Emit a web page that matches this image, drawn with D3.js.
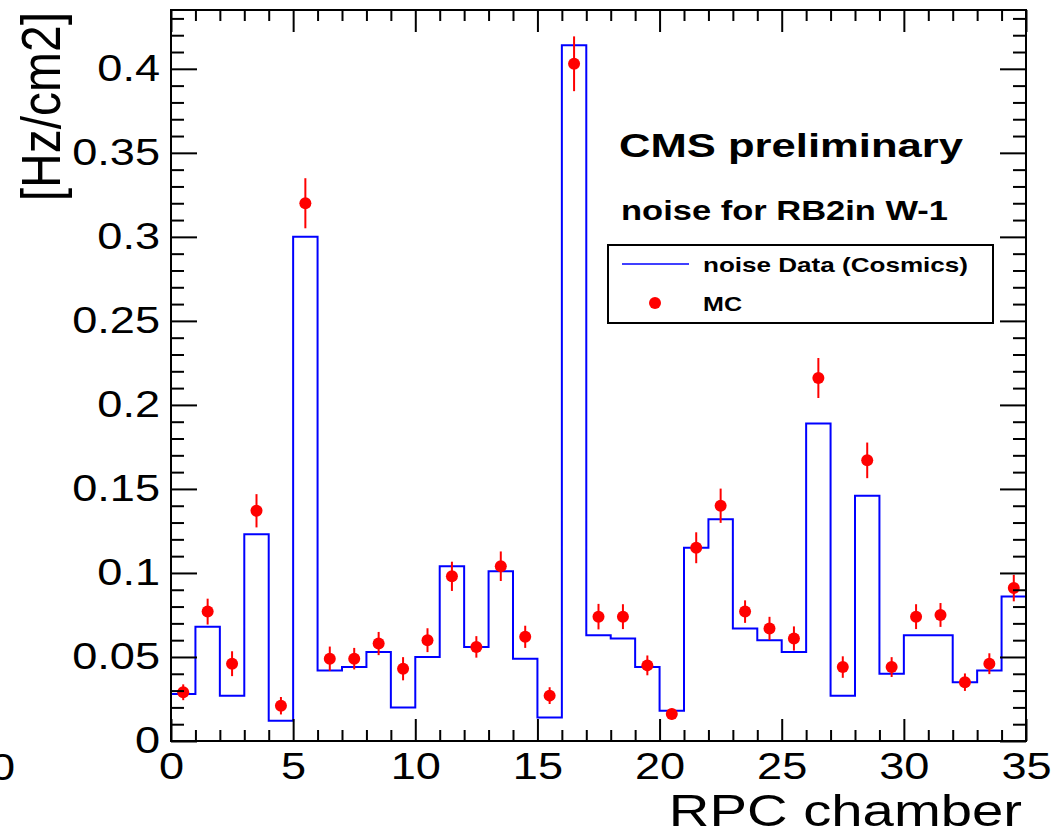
<!DOCTYPE html>
<html>
<head>
<meta charset="utf-8">
<script src="https://cdn.jsdelivr.net/npm/d3@7"></script>
<style>
  html, body { margin: 0; padding: 0; background: #fff; }
  svg { display: block; font-family: "Liberation Sans", Arial, Helvetica, sans-serif; }
</style>
</head>
<body>
<svg id="chart" width="1060" height="840"></svg>
<script>
// ---- data ----
const chambers = d3.range(0, 35);            // bin low edges (bin width 1)
const noiseData = [0.028, 0.068, 0.027, 0.123, 0.012, 0.300, 0.042, 0.044, 0.053, 0.020,
                   0.050, 0.104, 0.056, 0.101, 0.049, 0.014, 0.414, 0.063, 0.061, 0.044,
                   0.018, 0.115, 0.132, 0.067, 0.060, 0.053, 0.189, 0.027, 0.146, 0.040,
                   0.063, 0.063, 0.035, 0.042, 0.086];
const mcValues  = [0.029, 0.077, 0.046, 0.137, 0.021, 0.320, 0.049, 0.049, 0.058, 0.043,
                   0.060, 0.098, 0.056, 0.104, 0.062, 0.027, 0.403, 0.074, 0.074, 0.045,
                   0.016, 0.115, 0.140, 0.077, 0.067, 0.061, 0.216, 0.044, 0.167, 0.044,
                   0.074, 0.075, 0.035, 0.046, 0.091];
const mcErrors  = [0.0047, 0.0077, 0.0074, 0.0099, 0.0052, 0.0149, 0.0072, 0.0064, 0.0069, 0.0069,
                   0.0071, 0.0087, 0.0064, 0.0088, 0.0066, 0.0050, 0.0163, 0.0076, 0.0074, 0.0059,
                   0.0032, 0.0092, 0.0102, 0.0067, 0.0069, 0.0072, 0.0119, 0.0064, 0.0106, 0.0059,
                   0.0074, 0.0071, 0.0052, 0.0062, 0.0079];
const xTickLabels = [0, 5, 10, 15, 20, 25, 30, 35];
const yTickLabels = [0, 0.05, 0.1, 0.15, 0.2, 0.25, 0.3, 0.35, 0.4];
const legendLabels = ["noise Data (Cosmics)", "MC"];
const titleText = "CMS preliminary";
const subtitleText = "noise for RB2in W-1";
const xTitle = "RPC chamber";
const yTitle = "[Hz/cm2]";

// ---- layout ----
const L = 171, R = 1026, T = 10, B = 741;
const svg = d3.select("#chart");
const x = d3.scaleLinear().domain([0, 35]).range([L, R]);
const y = d3.scaleLinear().domain([0, 0.435]).range([B, T]);
const SX = 1.22; // horizontal stretch of text in the reference

const xMinor = d3.range(0, 36).filter(v => v % 5 !== 0);
const yMinor = d3.range(1, 44).map(v => v / 100).filter(v => Math.round(v * 100) % 5 !== 0);
const fmtY = d => d === 0 ? "0" : String(+d.toFixed(2));

function styleAxis(g, labels) {
  g.select(".domain").remove();
  g.selectAll(".tick line").attr("stroke", "#000").attr("stroke-width", 2);
  if (labels) {
    g.selectAll(".tick text").attr("fill", "#000").attr("font-size", 37)
      .attr("transform", `scale(${SX},1)`);
  } else {
    g.selectAll(".tick text").remove();
  }
}

// histogram (step line)
const stepPts = chambers.map((c, i) => [c, noiseData[i]]).concat([[35, noiseData[noiseData.length - 1]]]);
svg.append("path")
  .attr("d", d3.line().x(d => x(d[0])).y(d => y(d[1])).curve(d3.curveStepAfter)(stepPts))
  .attr("fill", "none").attr("stroke", "#0000ff").attr("stroke-width", 2);

// MC error bars and markers
const mc = svg.append("g");
mc.selectAll("line.err").data(chambers).join("line").attr("class", "err")
  .attr("x1", d => x(d + 0.5)).attr("x2", d => x(d + 0.5))
  .attr("y1", (d, i) => y(mcValues[i] - mcErrors[i])).attr("y2", (d, i) => y(mcValues[i] + mcErrors[i]))
  .attr("stroke", "#ff0000").attr("stroke-width", 2);
mc.selectAll("circle").data(chambers).join("circle")
  .attr("cx", d => x(d + 0.5)).attr("cy", (d, i) => y(mcValues[i])).attr("r", 6)
  .attr("fill", "#ff0000");

// axes: bottom / top / left / right, major + minor
svg.append("g").attr("transform", `translate(0,${B})`)
  .call(d3.axisBottom(x).tickValues(xTickLabels).tickSizeInner(-22).tickSizeOuter(0).tickPadding(12).tickFormat(d3.format("d")))
  .call(g => styleAxis(g, true));
svg.append("g").attr("transform", `translate(0,${B})`)
  .call(d3.axisBottom(x).tickValues(xMinor).tickSizeInner(-11).tickSizeOuter(0))
  .call(g => styleAxis(g, false));
svg.append("g").attr("transform", `translate(0,${T})`)
  .call(d3.axisTop(x).tickValues(xTickLabels).tickSizeInner(-22).tickSizeOuter(0))
  .call(g => styleAxis(g, false));
svg.append("g").attr("transform", `translate(0,${T})`)
  .call(d3.axisTop(x).tickValues(xMinor).tickSizeInner(-11).tickSizeOuter(0))
  .call(g => styleAxis(g, false));
svg.append("g").attr("transform", `translate(${L},0)`)
  .call(d3.axisLeft(y).tickValues(yTickLabels).tickSizeInner(-26).tickSizeOuter(0).tickPadding(9).tickFormat(fmtY))
  .call(g => styleAxis(g, true));
svg.append("g").attr("transform", `translate(${L},0)`)
  .call(d3.axisLeft(y).tickValues(yMinor).tickSizeInner(-13).tickSizeOuter(0))
  .call(g => styleAxis(g, false));
svg.append("g").attr("transform", `translate(${R},0)`)
  .call(d3.axisRight(y).tickValues(yTickLabels).tickSizeInner(-26).tickSizeOuter(0))
  .call(g => styleAxis(g, false));
svg.append("g").attr("transform", `translate(${R},0)`)
  .call(d3.axisRight(y).tickValues(yMinor).tickSizeInner(-13).tickSizeOuter(0))
  .call(g => styleAxis(g, false));

// frame
svg.append("rect").attr("x", L).attr("y", T).attr("width", R - L).attr("height", B - T)
  .attr("fill", "none").attr("stroke", "#000").attr("stroke-width", 2);

// stray clipped "0" at the far left
svg.append("text").attr("transform", `translate(15,780) scale(${SX},1)`)
  .attr("text-anchor", "end").attr("font-size", 37).text("0");

// axis titles
svg.append("text").attr("transform", `translate(1022,826) scale(1.25,1)`)
  .attr("text-anchor", "end").attr("font-size", 45).text(xTitle);
svg.append("text").attr("transform", `translate(60,12) scale(1.15,1) rotate(-90)`)
  .attr("text-anchor", "end").attr("font-size", 48).text(yTitle);

// titles
svg.append("text").attr("x", 619).attr("y", 157).attr("font-size", 34).attr("font-weight", "bold")
  .attr("textLength", 344).attr("lengthAdjust", "spacingAndGlyphs").text(titleText);
svg.append("text").attr("x", 621).attr("y", 220).attr("font-size", 28).attr("font-weight", "bold")
  .attr("textLength", 327).attr("lengthAdjust", "spacingAndGlyphs").text(subtitleText);

// legend
const lg = svg.append("g");
lg.append("rect").attr("x", 608).attr("y", 245).attr("width", 385).attr("height", 78)
  .attr("fill", "#fff").attr("stroke", "#000").attr("stroke-width", 2);
lg.append("line").attr("x1", 622).attr("x2", 689).attr("y1", 264).attr("y2", 264)
  .attr("stroke", "#0000ff").attr("stroke-width", 1.5);
lg.append("circle").attr("cx", 655).attr("cy", 303).attr("r", 6).attr("fill", "#ff0000");
lg.append("text").attr("x", 703).attr("y", 271.5).attr("font-size", 21).attr("font-weight", "bold")
  .attr("textLength", 265).attr("lengthAdjust", "spacingAndGlyphs").text(legendLabels[0]);
lg.append("text").attr("x", 703).attr("y", 310.5).attr("font-size", 21).attr("font-weight", "bold")
  .attr("textLength", 39).attr("lengthAdjust", "spacingAndGlyphs").text(legendLabels[1]);
</script>
</body>
</html>
